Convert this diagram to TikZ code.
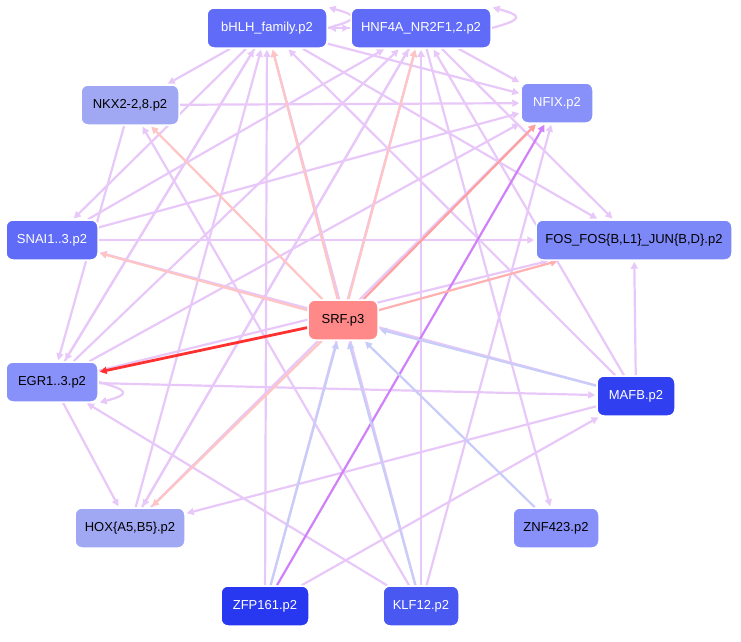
\documentclass[tikz,border=0pt]{standalone}
\usepackage{fontspec}
\setmainfont{Liberation Sans}
\usetikzlibrary{arrows.meta}
\pgfdeclarelayer{bg}
\pgfsetlayers{bg,main}
\definecolor{lilac}{HTML}{E8C8F8}
\definecolor{rosy}{HTML}{FFC4C4}
\definecolor{pale}{HTML}{C8CCF8}
\definecolor{violet2}{HTML}{D080F8}
\definecolor{salmon2}{HTML}{FFA0A0}
\definecolor{salmon3}{HTML}{FFB0B0}
\definecolor{redd}{HTML}{FF3030}
\tikzset{
  tf/.style={rounded corners=7pt, draw=white, line width=1.5pt, minimum height=40pt, font=\fontsize{13}{15}\selectfont, inner sep=3pt},
  e/.style={lilac, line width=2.2pt, -{Triangle[length=7pt,width=7pt]}, shorten >=1pt},
  s/.style={e, rosy},
  b/.style={e, pale}
}
\begin{document}
\begin{tikzpicture}[x=1pt,y=-1pt]
\useasboundingbox (0,0) rectangle (741,641);

%nodes
\node[tf,fill={rgb,255:red,96;green,108;blue,248},text=white,minimum width=120pt] (bhlh) at (267,28) {bHLH\_family.p2};
\node[tf,fill={rgb,255:red,96;green,108;blue,248},text=white,minimum width=140pt] (hnf) at (421,28) {HNF4A\_NR2F1,2.p2};
\node[tf,fill={rgb,255:red,160;green,168;blue,244},minimum width=98pt] (nkx) at (130,105) {NKX2-2,8.p2};
\node[tf,fill={rgb,255:red,136;green,144;blue,250},text=white,minimum width=72pt] (nfix) at (557,103) {NFIX.p2};
\node[tf,fill={rgb,255:red,96;green,108;blue,248},text=white,minimum width=92pt] (snai) at (52,240) {SNAI1..3.p2};
\node[tf,fill={rgb,255:red,124;green,136;blue,248},minimum width=196pt] (fos) at (634,240) {FOS\_FOS\{B,L1\}\_JUN\{B,D\}.p2};
\node[tf,fill={rgb,255:red,255;green,136;blue,136},minimum width=70pt] (srf) at (343,320) {SRF.p3};
\node[tf,fill={rgb,255:red,136;green,144;blue,250},minimum width=92pt] (egr) at (52,382) {EGR1..3.p2};
\node[tf,fill={rgb,255:red,48;green,64;blue,240},text=white,minimum width=78pt] (mafb) at (636,396) {MAFB.p2};
\node[tf,fill={rgb,255:red,160;green,168;blue,244},minimum width=110pt] (hox) at (130,528) {HOX\{A5,B5\}.p2};
\node[tf,fill={rgb,255:red,136;green,144;blue,250},minimum width=86pt] (znf) at (556,528) {ZNF423.p2};
\node[tf,fill={rgb,255:red,40;green,56;blue,240},text=white,minimum width=88pt] (zfp) at (265,606) {ZFP161.p2};
\node[tf,fill={rgb,255:red,72;green,88;blue,240},text=white,minimum width=76pt] (klf) at (421,606) {KLF12.p2};

\begin{pgfonlayer}{bg}
%lilac edges
\draw[e] (bhlh.east) to[out=15,in=-15,looseness=4] (bhlh.north east);
\draw[e] (hnf.east) to[out=15,in=-15,looseness=4] (hnf.north east);
\draw[e] (egr.east) to[out=-15,in=15,looseness=4] (egr.south east);
\draw[e] (bhlh) -- (hnf);
\draw[e] (hnf) -- (bhlh);
\draw[e] (bhlh) -- (nkx);
\draw[e] (bhlh) -- (nfix);
\draw[e] (bhlh) -- (fos);
\draw[e] (bhlh) -- (snai);
\draw[e] (bhlh) -- (egr);
\draw[e] (hnf) -- (nfix);
\draw[e] (hnf) -- (fos);
\draw[e] (hnf) -- (znf);
\draw[e] (hnf) -- (hox);
\draw[e] (nkx) -- (nfix);
\draw[e] (snai) -- (nfix);
\draw[e] (snai) -- (fos);
\draw[e] (snai) -- (hnf);
\draw[e] (egr) -- (bhlh);
\draw[e] (egr) -- (nfix);
\draw[e] (egr) -- (hnf);
\draw[e] (egr) -- (mafb);
\draw[e] (egr) -- (fos);
\draw[e] (mafb) -- (bhlh);
\draw[e] (mafb) -- (fos);
\draw[e] (mafb) -- (hnf);
\draw[e] (mafb) -- (hox);
\draw[e] (mafb) -- (snai);
\draw[e] (hox) -- (bhlh);
\draw[e] (hox) -- (hnf);
\draw[e] (hox) -- (nfix);
\draw[e] (zfp) -- (bhlh);
\draw[e] (zfp) -- (hnf);
\draw[e] (zfp) -- (mafb);
\draw[e] (klf) -- (bhlh);
\draw[e] (klf) -- (hnf);
\draw[e] (klf) -- (nfix);
\draw[e] (klf) -- (egr);
\draw[e] (klf) -- (nkx);
\draw[e] (nkx) -- (egr);
\draw[e] (egr) -- (hox);
\draw[e,violet2] (zfp) -- (nfix);
%from SRF
\draw[s] (srf) -- (nkx);
\draw[s] (srf) -- (snai);
\draw[s] (srf) -- (hox);
\draw[s] (srf) -- (bhlh);
\draw[s] (srf) -- (hnf);
\draw[s,salmon2] (srf) -- (nfix);
\draw[s,salmon3] (srf) -- (fos);
\draw[s,redd,line width=2.8pt] (srf) -- (egr);
%to SRF
\draw[b] (mafb) -- (srf);
\draw[b] (zfp) -- (srf);
\draw[b] (klf) -- (srf);
\draw[b] (znf) -- (srf);
\end{pgfonlayer}
\end{tikzpicture}
\end{document}
